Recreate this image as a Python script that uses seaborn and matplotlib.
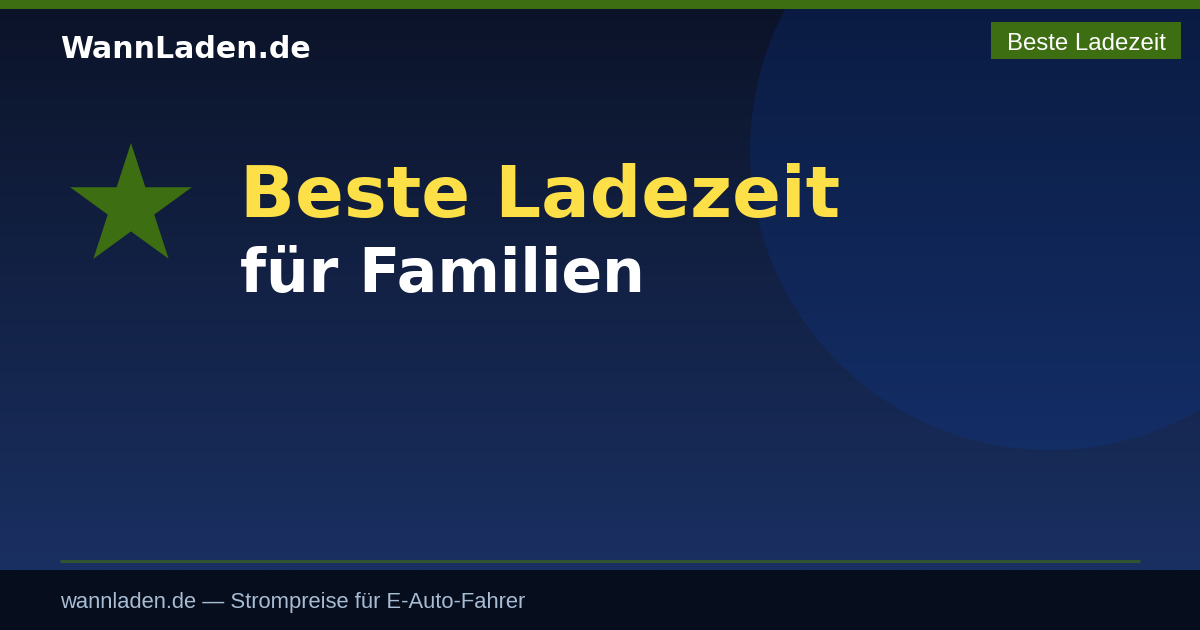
import numpy as np
import pandas as pd
import matplotlib
matplotlib.use("Agg")
import matplotlib.pyplot as plt
from matplotlib.patches import Circle, Rectangle
import seaborn as sns

# Texte der Karte
marke = "WannLaden.de"
badge_text = "Beste Ladezeit"
titel_zeilen = ["Beste Ladezeit", "für Familien"]
fusszeile = "wannladen.de — Strompreise für E-Auto-Fahrer"

# Farben
gruen = "#3d6e12"
gelb = "#fde047"
hintergrund_oben = np.array([11, 19, 40]) / 255
hintergrund_unten = np.array([26, 48, 98]) / 255
band_farbe = "#060d1c"
fuss_text_farbe = "#a8bcd4"

W, H = 1200, 630
PX = 0.72  # px -> pt bei dpi 100


def hintergrund(ax):
    t = np.linspace(0, 1, 256)[:, None, None]
    grad = hintergrund_oben * (1 - t) + hintergrund_unten * t
    ax.imshow(grad, extent=[0, W, 570, 0], aspect="auto", zorder=0)
    ax.add_patch(Circle((1050, 150), 300, facecolor="#0a3ca0", alpha=0.22,
                        edgecolor="none", zorder=1))


def main():
    sns.set_theme(style="white")
    plt.rcParams["font.family"] = ["DejaVu Sans"]

    fig = plt.figure(figsize=(12, 6.3), dpi=100)
    ax = fig.add_axes([0, 0, 1, 1])
    ax.set_xlim(0, W)
    ax.set_ylim(H, 0)
    ax.axis("off")

    hintergrund(ax)

    # Balken oben
    ax.add_patch(Rectangle((0, 0), W, 9, facecolor=gruen, edgecolor="none", zorder=2))

    # Marke
    ax.text(60, 58, marke, fontsize=30 * PX, fontweight="bold", color="white",
            va="baseline", ha="left", zorder=3)

    # Badge oben rechts
    ax.add_patch(Rectangle((991, 22), 190, 37, facecolor=gruen, edgecolor="none", zorder=2))
    ax.text(1086, 50, badge_text, fontsize=24 * PX, color="white",
            family=["Liberation Sans"], va="baseline", ha="center", zorder=3)

    # Stern
    stern = pd.DataFrame({"x": [131], "y": [207]})
    sns.scatterplot(data=stern, x="x", y="y", marker="*", s=(128 * PX) ** 2,
                    color=gruen, edgecolor="none", linewidth=0, ax=ax, zorder=3,
                    legend=False)
    ax.set_xlim(0, W)
    ax.set_ylim(H, 0)
    ax.axis("off")

    # Titel
    ax.text(240, 217, titel_zeilen[0], fontsize=72 * PX, fontweight="bold",
            color=gelb, va="baseline", ha="left", zorder=3)
    ax.text(240, 292, titel_zeilen[1], fontsize=60 * PX, fontweight="bold",
            color="white", va="baseline", ha="left", zorder=3)

    # Trennlinie
    ax.plot([60, 1140], [561, 561], color=gruen, alpha=0.6, linewidth=3 * PX,
            solid_capstyle="butt", zorder=3)

    # Fussband
    ax.add_patch(Rectangle((0, 570), W, 60, facecolor=band_farbe, edgecolor="none", zorder=2))
    ax.text(60, 608, fusszeile, fontsize=22 * PX, color=fuss_text_farbe,
            family=["Liberation Sans"], va="baseline", ha="left", zorder=3)

    fig.savefig("out.png", dpi=100)


if __name__ == "__main__":
    main()
